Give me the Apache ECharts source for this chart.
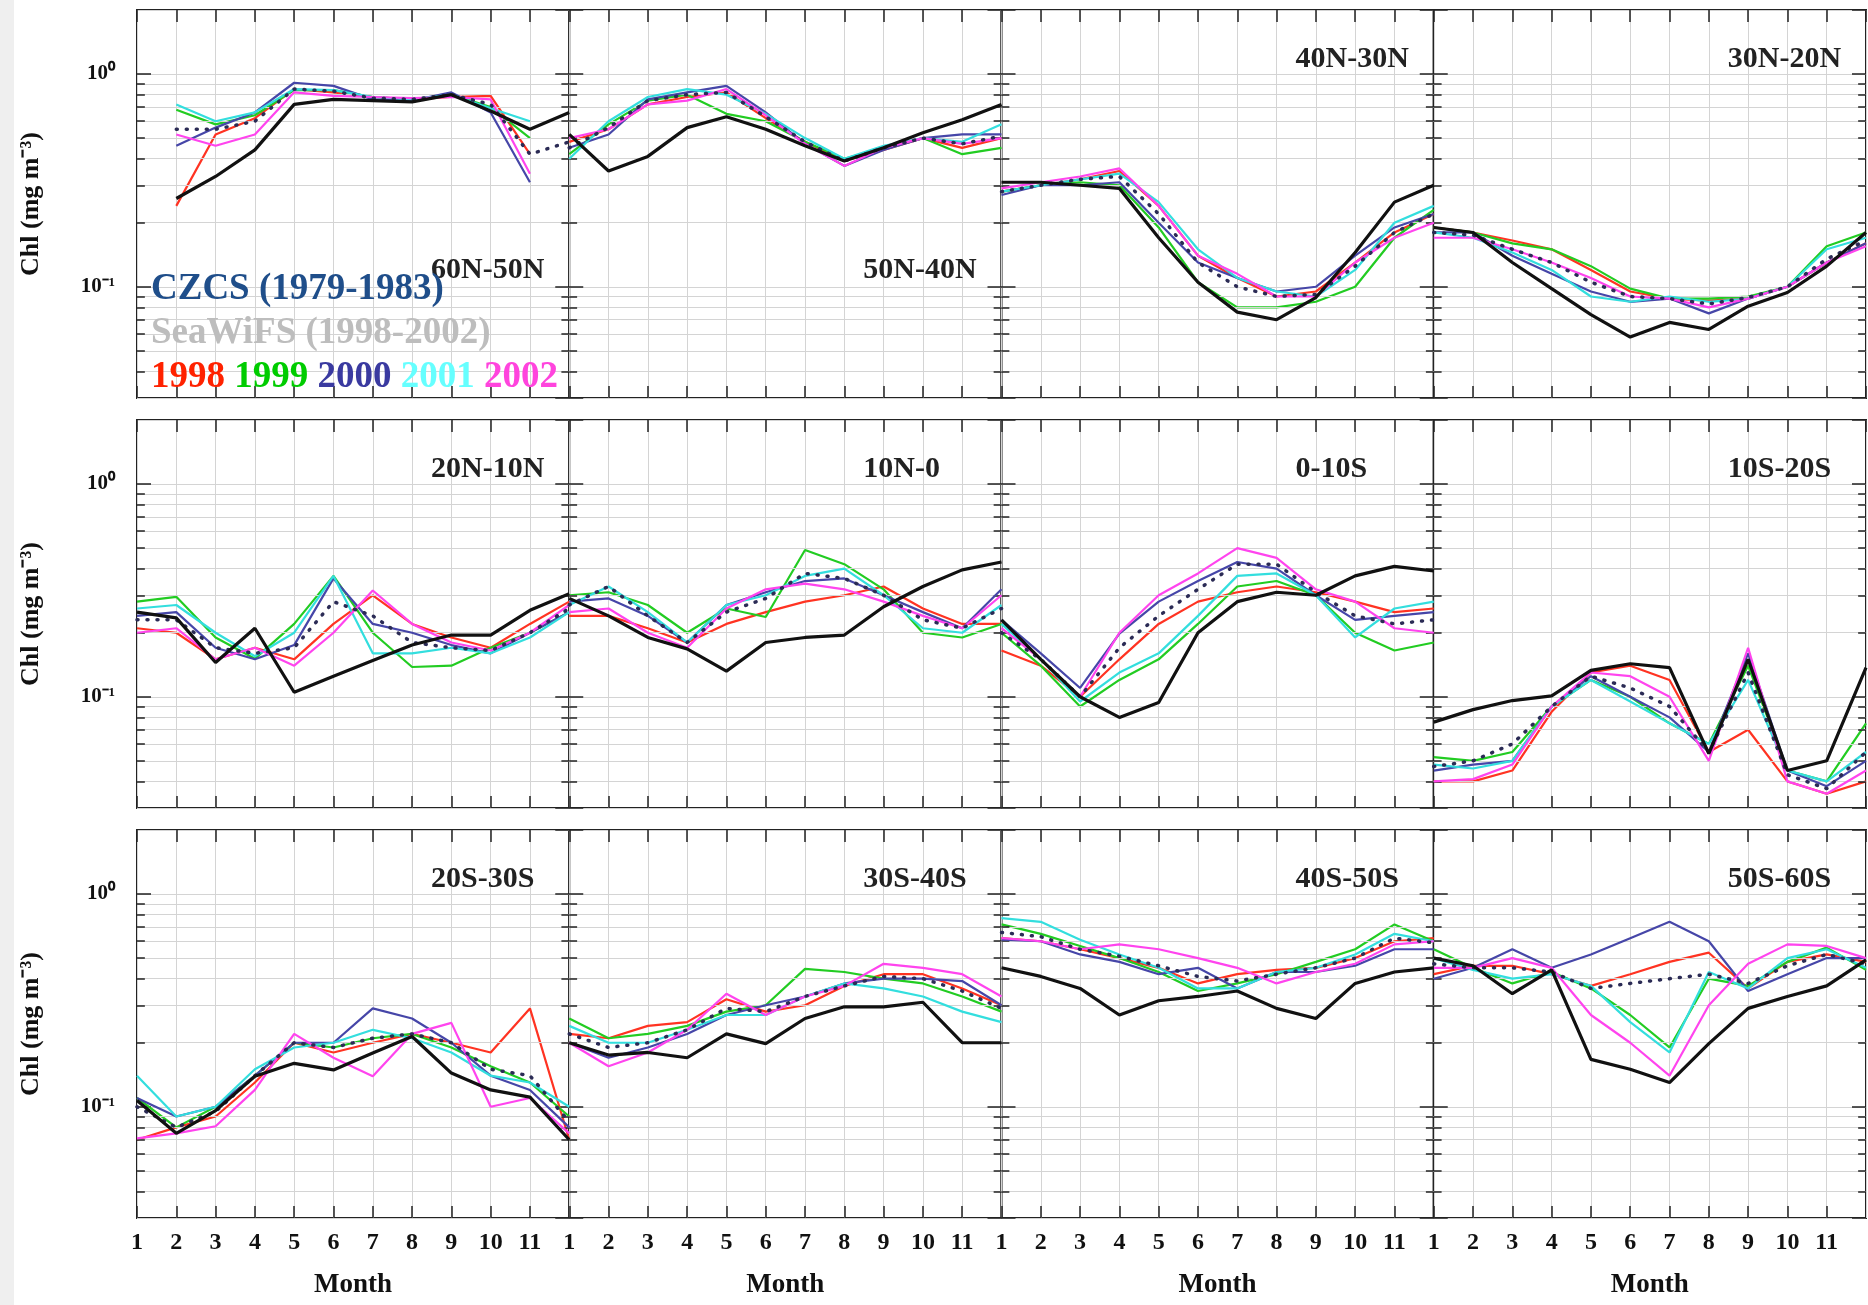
<!DOCTYPE html>
<html><head><meta charset="utf-8">
<script src="https://cdn.jsdelivr.net/npm/echarts@6/dist/echarts.min.js"></script>
<style>html,body{margin:0;padding:0;background:#fff;}#c{width:1868px;height:1305px;}</style>
</head><body><div id="c"></div>
<script>
const months = [1,2,3,4,5,6,7,8,9,10,11,12];
const regions = ['60N-50N','50N-40N','40N-30N','30N-20N','20N-10N','10N-0','0-10S','10S-20S','20S-30S','30S-40S','40S-50S','50S-60S'];
const yTickLabels = {'1':'10\u2070','0.1':'10\u207B\u00B9'};
const minorTickValues = [0.04,0.05,0.06,0.07,0.08,0.09,0.2,0.3,0.4,0.5,0.6,0.7,0.8,0.9];

// CZCS climatology (1979-1983), one row per region
const czcs = [
 [null,0.26,0.33,0.44,0.72,0.76,0.75,0.74,0.80,0.67,0.55,0.66],
 [0.52,0.35,0.41,0.56,0.63,0.55,0.46,0.39,0.45,0.53,0.61,0.72],
 [0.31,0.31,0.30,0.29,0.17,0.105,0.076,0.070,0.089,0.145,0.25,0.30],
 [0.19,0.18,0.13,0.098,0.074,0.058,0.068,0.063,0.081,0.094,0.125,0.18],
 [0.25,0.235,0.145,0.21,0.105,0.125,0.148,0.175,0.195,0.195,0.255,0.305],
 [0.29,0.24,0.19,0.168,0.132,0.18,0.19,0.195,0.265,0.33,0.395,0.43],
 [0.23,0.15,0.10,0.08,0.094,0.20,0.28,0.31,0.30,0.37,0.41,0.39],
 [0.076,0.087,0.096,0.101,0.133,0.143,0.137,0.054,0.15,0.045,0.05,0.137],
 [0.107,0.075,0.096,0.139,0.16,0.149,0.179,0.214,0.144,0.12,0.111,0.07],
 [0.20,0.175,0.18,0.17,0.22,0.198,0.26,0.295,0.295,0.31,0.20,0.20],
 [0.45,0.41,0.36,0.27,0.315,0.33,0.35,0.29,0.26,0.38,0.43,0.45],
 [0.50,0.46,0.34,0.44,0.167,0.15,0.13,0.198,0.29,0.33,0.37,0.49]
];
// SeaWiFS climatology (1998-2002)
const seawifs = [
 [null,0.55,0.55,0.60,0.85,0.83,0.77,0.76,0.80,0.72,0.42,0.48],
 [0.45,0.56,0.75,0.80,0.82,0.63,0.48,0.39,0.45,0.50,0.47,0.51],
 [0.28,0.30,0.32,0.33,0.22,0.13,0.10,0.09,0.092,0.125,0.18,0.22],
 [0.18,0.175,0.15,0.13,0.105,0.09,0.088,0.083,0.089,0.10,0.135,0.165],
 [0.23,0.23,0.17,0.16,0.17,0.28,0.24,0.18,0.17,0.165,0.20,0.26],
 [0.27,0.33,0.24,0.18,0.25,0.29,0.38,0.36,0.30,0.23,0.21,0.26],
 [0.20,0.15,0.10,0.17,0.24,0.32,0.42,0.42,0.31,0.24,0.22,0.23],
 [0.047,0.05,0.06,0.09,0.125,0.11,0.09,0.055,0.13,0.043,0.037,0.055],
 [0.10,0.08,0.095,0.14,0.20,0.19,0.21,0.22,0.20,0.15,0.14,0.085],
 [0.22,0.19,0.20,0.23,0.29,0.28,0.33,0.37,0.41,0.40,0.35,0.29],
 [0.66,0.63,0.55,0.51,0.46,0.41,0.39,0.42,0.45,0.50,0.62,0.59],
 [0.47,0.45,0.45,0.43,0.36,0.38,0.40,0.42,0.38,0.46,0.52,0.47]
];
const y1998 = [
 [null,0.24,0.52,0.62,0.85,0.82,0.78,0.76,0.78,0.79,0.42,null],
 [0.48,0.55,0.72,0.78,0.82,0.62,0.48,0.39,0.44,0.50,0.45,0.50],
 [0.28,0.30,0.32,0.35,0.24,0.14,0.11,0.09,0.095,0.13,0.18,0.22],
 [0.19,0.18,0.165,0.15,0.12,0.095,0.088,0.086,0.088,0.10,0.13,0.16],
 [0.21,0.20,0.15,0.17,0.15,0.22,0.30,0.22,0.19,0.17,0.22,0.28],
 [0.24,0.24,0.21,0.18,0.22,0.25,0.28,0.30,0.33,0.26,0.22,0.22],
 [0.165,0.14,0.10,0.15,0.22,0.28,0.31,0.33,0.31,0.28,0.25,0.26],
 [0.04,0.04,0.045,0.085,0.13,0.14,0.12,0.055,0.07,0.04,0.035,0.04],
 [0.07,0.08,0.09,0.13,0.20,0.18,0.20,0.22,0.20,0.18,0.29,0.07],
 [0.22,0.21,0.24,0.25,0.32,0.28,0.30,0.37,0.42,0.42,0.36,0.30],
 [0.62,0.60,0.55,0.50,0.45,0.38,0.42,0.44,0.45,0.50,0.60,0.62],
 [0.42,0.46,0.46,0.42,0.37,0.42,0.48,0.53,0.36,0.48,0.52,0.48]
];
const y1999 = [
 [null,0.68,0.58,0.64,0.84,0.84,0.78,0.76,0.80,0.70,0.50,null],
 [0.42,0.58,0.75,0.80,0.65,0.60,0.48,0.40,0.45,0.50,0.42,0.45],
 [0.28,0.30,0.31,0.30,0.19,0.105,0.08,0.08,0.085,0.10,0.17,0.23],
 [0.19,0.18,0.16,0.15,0.125,0.098,0.088,0.088,0.09,0.10,0.155,0.18],
 [0.28,0.295,0.19,0.151,0.22,0.37,0.20,0.138,0.14,0.17,0.20,0.25],
 [0.30,0.31,0.27,0.20,0.26,0.237,0.49,0.42,0.32,0.20,0.19,0.22],
 [0.20,0.14,0.09,0.12,0.15,0.22,0.33,0.35,0.30,0.20,0.165,0.18],
 [0.052,0.05,0.055,0.09,0.12,0.10,0.075,0.06,0.14,0.045,0.04,0.075],
 [0.11,0.08,0.10,0.14,0.20,0.19,0.21,0.22,0.19,0.155,0.13,0.09],
 [0.26,0.21,0.22,0.24,0.28,0.30,0.445,0.43,0.40,0.38,0.33,0.28],
 [0.72,0.65,0.57,0.50,0.43,0.35,0.38,0.42,0.48,0.55,0.72,0.60],
 [0.55,0.45,0.38,0.43,0.36,0.27,0.19,0.40,0.37,0.48,0.56,0.44]
];
const y2000 = [
 [null,0.46,0.56,0.66,0.91,0.88,0.76,0.75,0.82,0.66,0.31,null],
 [0.45,0.52,0.76,0.82,0.88,0.66,0.47,0.37,0.44,0.50,0.52,0.52],
 [0.27,0.30,0.30,0.31,0.20,0.13,0.11,0.095,0.10,0.14,0.19,0.22],
 [0.18,0.18,0.14,0.115,0.095,0.085,0.088,0.075,0.088,0.10,0.13,0.16],
 [0.24,0.25,0.17,0.15,0.175,0.36,0.22,0.20,0.175,0.16,0.20,0.25],
 [0.28,0.29,0.24,0.18,0.27,0.31,0.35,0.36,0.30,0.25,0.21,0.32],
 [0.23,0.16,0.11,0.198,0.28,0.35,0.43,0.40,0.30,0.23,0.24,0.25],
 [0.045,0.048,0.05,0.09,0.125,0.10,0.08,0.055,0.16,0.045,0.038,0.05],
 [0.11,0.09,0.10,0.14,0.20,0.20,0.29,0.26,0.20,0.14,0.12,0.08],
 [0.20,0.17,0.19,0.22,0.27,0.30,0.33,0.38,0.40,0.40,0.39,0.30],
 [0.61,0.60,0.52,0.48,0.42,0.45,0.36,0.43,0.43,0.46,0.55,0.55],
 [0.40,0.45,0.55,0.45,0.52,0.62,0.74,0.60,0.35,0.42,0.50,0.50]
];
const y2001 = [
 [null,0.72,0.60,0.66,0.85,0.84,0.78,0.76,0.80,0.69,0.60,null],
 [0.40,0.60,0.78,0.85,0.80,0.65,0.50,0.40,0.46,0.50,0.48,0.58],
 [0.28,0.30,0.32,0.34,0.25,0.15,0.11,0.095,0.09,0.12,0.20,0.24],
 [0.18,0.17,0.145,0.12,0.09,0.085,0.09,0.085,0.088,0.10,0.15,0.17],
 [0.26,0.27,0.20,0.155,0.20,0.37,0.16,0.16,0.17,0.16,0.19,0.25],
 [0.27,0.33,0.25,0.18,0.27,0.30,0.37,0.40,0.30,0.21,0.20,0.27],
 [0.22,0.15,0.095,0.13,0.16,0.24,0.37,0.38,0.30,0.19,0.26,0.28],
 [0.048,0.046,0.05,0.09,0.12,0.095,0.075,0.06,0.12,0.045,0.04,0.055],
 [0.14,0.09,0.10,0.15,0.19,0.20,0.23,0.21,0.18,0.14,0.13,0.10],
 [0.24,0.20,0.20,0.23,0.27,0.27,0.33,0.38,0.36,0.33,0.28,0.25],
 [0.77,0.74,0.61,0.52,0.45,0.36,0.36,0.43,0.45,0.52,0.65,0.60],
 [0.50,0.44,0.40,0.42,0.37,0.25,0.18,0.43,0.36,0.50,0.55,0.45]
];
const y2002 = [
 [null,0.52,0.46,0.52,0.82,0.79,0.78,0.77,0.78,0.76,0.34,null],
 [0.50,0.55,0.72,0.75,0.85,0.64,0.47,0.37,0.45,0.50,0.47,0.50],
 [0.29,0.31,0.33,0.36,0.24,0.14,0.115,0.09,0.09,0.13,0.17,0.20],
 [0.17,0.17,0.15,0.13,0.11,0.09,0.088,0.08,0.088,0.10,0.13,0.155],
 [0.20,0.21,0.15,0.17,0.14,0.20,0.316,0.22,0.18,0.165,0.20,0.27],
 [0.25,0.26,0.20,0.17,0.26,0.32,0.34,0.32,0.28,0.24,0.21,0.30],
 [0.21,0.15,0.10,0.20,0.30,0.38,0.50,0.45,0.32,0.28,0.21,0.20],
 [0.04,0.041,0.048,0.09,0.13,0.125,0.10,0.05,0.17,0.04,0.035,0.045],
 [0.071,0.075,0.081,0.12,0.22,0.17,0.139,0.22,0.248,0.10,0.11,0.075],
 [0.20,0.155,0.18,0.23,0.34,0.27,0.33,0.37,0.47,0.45,0.42,0.33],
 [0.62,0.60,0.55,0.58,0.55,0.50,0.45,0.38,0.43,0.47,0.58,0.60],
 [0.45,0.45,0.50,0.45,0.27,0.20,0.14,0.30,0.47,0.58,0.57,0.50]
];

const FONT = "'Liberation Serif','Times New Roman',serif";
const GL = 137, GW = 432.25, GT = [10, 420, 830], GH = 388;
const YMIN = 0.03, YMAX = 2;

const seriesDefs = [
  {name:'1998', values:y1998, color:'#ff3322', width:2.2},
  {name:'1999', values:y1999, color:'#22cc22', width:2.2},
  {name:'2000', values:y2000, color:'#4646a8', width:2.2},
  {name:'2001', values:y2001, color:'#33dede', width:2.2},
  {name:'2002', values:y2002, color:'#ff44ee', width:2.2},
  {name:'SeaWiFS', values:seawifs, color:'#2b2b55', width:3.5, type:[1,9], cap:'round'},
  {name:'CZCS', values:czcs, color:'#111111', width:3.2}
];

const grid = [], xAxis = [], yAxis = [], series = [], title = [];
for (let p = 0; p < 12; p++) {
  const r = Math.floor(p / 4), c = p % 4;
  grid.push({left: GL + c * GW, top: GT[r], width: GW, height: GH, show: true,
    borderColor: '#222', borderWidth: 2, backgroundColor: '#fff', outerBoundsMode: 'none', containLabel: false});
  const bottomRow = r === 2;
  xAxis.push({type: 'value', gridIndex: p, min: 1, max: 12, interval: 1, position: 'bottom',
    axisLine: {show: false},
    axisTick: {show: true, inside: true, length: 12, lineStyle: {color: '#222', width: 1.5}},
    axisLabel: {show: bottomRow, margin: 13, color: '#111', fontFamily: FONT, fontWeight: 'bold', fontSize: 24,
      showMaxLabel: false, formatter: v => (v === 12 ? '' : String(v))},
    splitLine: {show: true, lineStyle: {color: '#d4d4d4', width: 1}},
    name: bottomRow ? 'Month' : '', nameLocation: 'middle', nameGap: 54,
    nameTextStyle: {color: '#111', fontFamily: FONT, fontWeight: 'bold', fontSize: 27}});
  xAxis.push({type: 'value', gridIndex: p, min: 1, max: 12, interval: 1, position: 'top',
    axisLine: {show: false},
    axisTick: {show: true, inside: true, length: 12, lineStyle: {color: '#222', width: 1.5}},
    axisLabel: {show: false}, splitLine: {show: false}});
  const firstCol = c === 0;
  yAxis.push({type: 'log', logBase: 10, gridIndex: p, min: YMIN, max: YMAX, position: 'left',
    axisLine: {show: false},
    axisTick: {show: true, inside: true, length: 14, lineStyle: {color: '#222', width: 1.5}},
    axisLabel: {show: firstCol, margin: 22, color: '#111', fontFamily: FONT, fontWeight: 'bold', fontSize: 21,
      showMinLabel: false, showMaxLabel: false,
      formatter: v => { const k = String(+Number(v).toPrecision(6)); return yTickLabels[k] || ''; }},
    splitLine: {show: true, lineStyle: {color: '#d4d4d4', width: 1}},
    name: firstCol ? 'Chl (mg m\u207B\u00B3)' : '', nameLocation: 'middle', nameGap: 93, nameRotate: 90,
    nameTextStyle: {color: '#111', fontFamily: FONT, fontWeight: 'bold', fontSize: 26}});
  yAxis.push({type: 'log', logBase: 10, gridIndex: p, min: YMIN, max: YMAX, position: 'right',
    axisLine: {show: false},
    axisTick: {show: true, inside: true, length: 14, lineStyle: {color: '#222', width: 1.5}},
    axisLabel: {show: false}, splitLine: {show: false}});

  // decoration: minor log grid lines and minor ticks
  const ml = [];
  minorTickValues.forEach(v => {
    ml.push({yAxis: v, lineStyle: {color: '#d4d4d4', width: 1, type: 'solid'}});
    ml.push([{coord: [1, v], lineStyle: {color: '#222', width: 1.5, type: 'solid'}}, {coord: [1.2, v]}]);
    ml.push([{coord: [11.8, v], lineStyle: {color: '#222', width: 1.5, type: 'solid'}}, {coord: [12, v]}]);
  });
  series.push({type: 'line', xAxisIndex: p * 2, yAxisIndex: p * 2, data: [], silent: true, z: 1,
    markLine: {silent: true, symbol: ['none', 'none'], animation: false, label: {show: false},
      emphasis: {disabled: true}, data: ml}});

  seriesDefs.forEach((d, k) => {
    series.push({type: 'line', name: d.name, xAxisIndex: p * 2, yAxisIndex: p * 2, z: 3 + k,
      symbol: 'none', silent: true, animation: false,
      lineStyle: {color: d.color, width: d.width, type: d.type || 'solid', cap: d.cap || 'butt'},
      data: months.map((m, i) => [m, d.values[p][i] == null ? '-' : d.values[p][i]])});
  });

  title.push({text: regions[p], left: GL + c * GW + 294, top: GT[r] + (p < 2 ? 245 : 34), padding: 0,
    textStyle: {color: '#222', fontFamily: FONT, fontWeight: 'bold', fontSize: 30}});
}

const legStyle = (color) => ({color: color, fontFamily: FONT, fontWeight: 'bold', fontSize: 37, lineHeight: 44});
title.push({
  text: '{cz|CZCS (1979-1983)}\n{sw|SeaWiFS (1998-2002)}\n{a|1998} {b|1999} {c|2000} {d|2001} {e|2002}',
  left: 151, top: 267, padding: 0, z: 10,
  textStyle: {fontFamily: FONT, fontWeight: 'bold', fontSize: 37, lineHeight: 44,
    rich: {cz: legStyle('#1f4e8a'), sw: legStyle('#bdbdbd'), a: legStyle('#ff2200'), b: legStyle('#00cc00'),
      c: legStyle('#3a3aa0'), d: legStyle('#66ffff'), e: legStyle('#ff44dd')}}
});

const chart = echarts.init(document.getElementById('c'), null, {renderer: 'canvas'});
chart.setOption({
  backgroundColor: '#fff',
  animation: false,
  graphic: [{type: 'rect', left: 0, top: 0, z: -10, shape: {width: 14, height: 1305}, style: {fill: '#efefef'}}],
  title, grid, xAxis, yAxis, series
});
</script></body></html>
